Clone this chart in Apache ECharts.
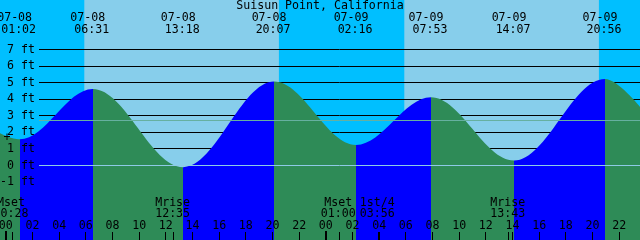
<!DOCTYPE html>
<html><head><meta charset="utf-8">
<script src="https://cdn.jsdelivr.net/npm/echarts@6/dist/echarts.min.js"></script>
<style>html,body{margin:0;padding:0;background:#fff}#c{width:640px;height:240px}</style>
</head><body><div id="c"></div>
<script>
// ---- data (hours counted from 07-08 00:00) ----
const title = 'Suisun Point, California';
const tideTimes = [-0.439, 1.033, 6.517, 13.3, 20.117, 26.267, 31.883, 38.117, 44.933, 47.561];
const tideHeights = [1.95, 1.58, 4.62, -0.10, 5.07, 1.24, 4.12, 0.30, 5.23, 3.55];
const eventDates = ['07-08', '07-08', '07-08', '07-08', '07-09', '07-09', '07-09', '07-09'];
const eventTimes = ['01:02', '06:31', '13:18', '20:07', '02:16', '07:53', '14:07', '20:56'];
const eventHours = [1.033, 6.517, 13.3, 20.117, 26.267, 31.883, 38.117, 44.933];
const risingStarts = [1.033, 13.3, 26.267, 38.117];
const risingEnds = [6.517, 20.117, 31.883, 44.933];
const sunrises = [5.883, 29.883];
const sunsets = [20.483, 44.483];
const moonNames = ['Mset', 'Mrise', 'Mset', '1st/4', 'Mrise'];
const moonTimes = ['00:28', '12:35', '01:00', '03:56', '13:43'];
const moonHours = [0.467, 12.583, 25.0, 27.933, 37.717];
const levelLabels = [-1, 0, 1, 2, 3, 4, 5, 6, 7];
const gridLevels = [-4, -3, -2, -1, 0, 1, 2, 3, 4, 5, 6, 7];
const datumLevel = 0;
const meanLevel = 2.72;
const hourTicks = [0, 2, 4, 6, 8, 10, 12, 14, 16, 18, 20, 22, 24, 26, 28, 30, 32, 34, 36, 38, 40, 42, 44, 46];
const midnights = [0, 24];
const xMin = -0.439, xMax = 47.561, yMin = -4.5, yMax = 10;

// ---- styles ----
const FONT = '11.6px "DejaVu Sans Mono", "Liberation Mono", monospace';
const NIGHT = '#00bfff', DAY = '#87ceeb', RISE = '#0000ff', FALL = '#2e8b57';
const LINE_X0 = 39;

const skyData = [];
{
  let t = xMin;
  for (let i = 0; i < sunrises.length; i++) {
    skyData.push([t, sunrises[i], 0]);
    skyData.push([sunrises[i], sunsets[i], 1]);
    t = sunsets[i];
  }
  skyData.push([t, xMax, 0]);
}
const crisp = v => Math.round(v - 0.5) + 0.5;

const chart = echarts.init(document.getElementById('c'), null, {renderer: 'canvas'});
chart.setOption({
  animation: false,
  backgroundColor: NIGHT,
  grid: {left: 0, right: 0, top: 0, bottom: 0},
  xAxis: {type: 'value', min: xMin, max: xMax, show: false},
  yAxis: {type: 'value', min: yMin, max: yMax, show: false},
  visualMap: {
    type: 'piecewise', show: false, dimension: 0, seriesIndex: 2,
    pieces: risingStarts.map((s, i) => ({gte: s, lt: risingEnds[i], color: RISE})),
    outOfRange: {color: FALL}
  },
  graphic: [{type: 'text', z: 100, x: 7, y: 137.5,
    style: {text: '+', font: FONT, fill: '#000', align: 'center', verticalAlign: 'middle'}}],
  series: [
    { // sky bands
      type: 'custom', z: 1, silent: true, data: skyData,
      renderItem: (p, api) => {
        const a = api.coord([api.value(0), yMax]);
        const b = api.coord([api.value(1), yMin]);
        return {type: 'rect', shape: {x: a[0], y: a[1], width: b[0] - a[0], height: b[1] - a[1]},
          style: {fill: api.value(2) ? DAY : NIGHT}};
      }
    },
    { // height grid lines
      type: 'custom', z: 2, silent: true, data: gridLevels.map(v => [xMax, v]),
      renderItem: (p, api) => {
        const pt = api.coord([api.value(0), api.value(1)]);
        const y = crisp(pt[1]);
        return {type: 'line', shape: {x1: LINE_X0, y1: y, x2: pt[0], y2: y},
          style: {stroke: '#000', lineWidth: 1}};
      }
    },
    { // tide
      type: 'line', z: 3, silent: true,
      data: tideTimes.map((t, i) => [t, tideHeights[i]]),
      smooth: 0.36, smoothMonotone: 'x', symbol: 'none',
      lineStyle: {width: 0, opacity: 0},
      areaStyle: {opacity: 1, origin: 'start'}
    },
    { // datum & mean lines
      type: 'custom', z: 4, silent: true, data: [[xMax, datumLevel, 0], [xMax, meanLevel, 1]],
      renderItem: (p, api) => {
        const pt = api.coord([api.value(0), api.value(1)]);
        const y = crisp(pt[1]);
        return {type: 'line', shape: {x1: LINE_X0, y1: y, x2: pt[0], y2: y},
          style: {stroke: api.value(2) ? '#66b0a0' : '#8ecae6', lineWidth: 1}};
      }
    },
    { // hour ticks and labels
      type: 'custom', z: 5, silent: true, data: hourTicks.map(h => [h, yMin]),
      renderItem: (p, api) => {
        const h = api.value(0);
        const pt = api.coord([h, yMin]);
        const x = crisp(pt[0]);
        return {type: 'group', children: [
          {type: 'line', shape: {x1: x, y1: 232, x2: x, y2: 240}, style: {stroke: '#000', lineWidth: 1}},
          {type: 'text', style: {text: ('0' + (h % 24)).slice(-2), x: pt[0], y: 225.5, font: FONT,
            fill: '#000', align: 'center', verticalAlign: 'middle'}}
        ]};
      }
    },
    { // midnight ticks
      type: 'custom', z: 5, silent: true, data: midnights.map(h => [h, yMin]),
      renderItem: (p, api) => {
        const pt = api.coord([api.value(0), yMin]);
        const x = Math.round(pt[0]);
        return {type: 'line', shape: {x1: x, y1: 231, x2: x, y2: 240}, style: {stroke: '#000', lineWidth: 2}};
      }
    },
    { // moon events
      type: 'custom', z: 5, silent: true, data: moonHours.map(h => [h, yMin]),
      renderItem: (p, api) => {
        const i = p.dataIndex;
        const pt = api.coord([api.value(0), yMin]);
        const x = crisp(pt[0]);
        return {type: 'group', children: [
          {type: 'line', shape: {x1: x, y1: 232, x2: x, y2: 240}, style: {stroke: '#000', lineWidth: 1}},
          {type: 'text', style: {text: moonNames[i], x: pt[0] - 1, y: 202.5, font: FONT,
            fill: '#000', align: 'center', verticalAlign: 'middle'}},
          {type: 'text', style: {text: moonTimes[i], x: pt[0] - 1, y: 213.5, font: FONT,
            fill: '#000', align: 'center', verticalAlign: 'middle'}}
        ]};
      }
    },
    { // tide event labels at top
      type: 'custom', z: 5, silent: true, data: eventHours.map(h => [h, yMax]),
      renderItem: (p, api) => {
        const i = p.dataIndex;
        const pt = api.coord([api.value(0), yMax]);
        return {type: 'group', children: [
          {type: 'text', style: {text: eventDates[i], x: pt[0] - 5, y: 17.5, font: FONT,
            fill: '#000', align: 'center', verticalAlign: 'middle'}},
          {type: 'text', style: {text: eventTimes[i], x: pt[0] - 1, y: 29.5, font: FONT,
            fill: '#000', align: 'center', verticalAlign: 'middle'}}
        ]};
      }
    },
    { // height labels
      type: 'custom', z: 5, silent: true, data: levelLabels.map(v => [xMin, v]),
      renderItem: (p, api) => {
        const pt = api.coord([xMin, api.value(1)]);
        return {type: 'text', style: {text: api.value(1) + ' ft', x: 35, y: pt[1], font: FONT,
          fill: '#000', align: 'right', verticalAlign: 'middle'}};
      }
    },
    { // title
      type: 'custom', z: 5, silent: true, data: [[(xMin + xMax) / 2, yMax]],
      renderItem: (p, api) => {
        const pt = api.coord([api.value(0), yMax]);
        return {type: 'text', style: {text: title, x: pt[0], y: 6, font: FONT,
          fill: '#000', align: 'center', verticalAlign: 'middle'}};
      }
    }
  ]
});
</script></body></html>
